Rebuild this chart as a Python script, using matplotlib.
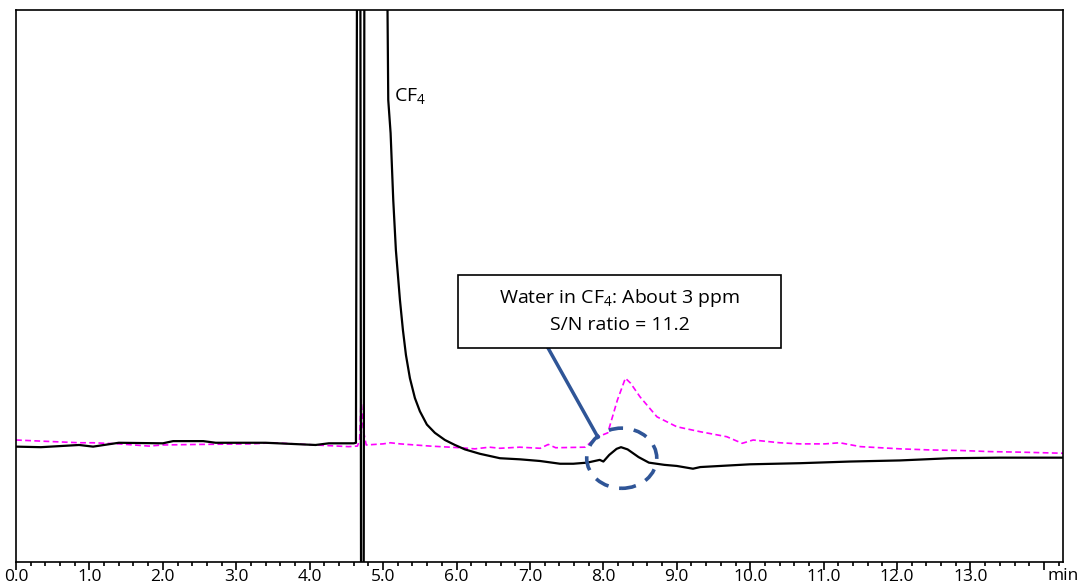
import matplotlib
matplotlib.use("Agg")
import matplotlib.pyplot as plt
from matplotlib.patches import Ellipse, Rectangle
from matplotlib.ticker import MultipleLocator

plt.rcParams['font.family'] = ['Open Sans', 'DejaVu Sans']
plt.rcParams['mathtext.fontset'] = 'custom'
plt.rcParams['mathtext.rm'] = 'Open Sans'
plt.rcParams['mathtext.default'] = 'regular'

# black trace (TCD signal), time in min, signal in arbitrary units
t_black = [0.0, 0.34, 0.86, 1.05, 1.40, 2.0, 2.14, 2.55, 2.72, 3.40, 4.08, 4.26, 4.60, 4.63,
           4.645, 4.69, 4.70, 4.735, 4.745, 5.04, 5.06, 5.07, 5.102, 5.138, 5.174, 5.229,
           5.270, 5.311, 5.365, 5.433, 5.501, 5.596, 5.705, 5.842, 5.978, 6.114, 6.319,
           6.591, 6.864, 7.136, 7.41, 7.59, 7.78, 7.95, 8.00,
           8.08, 8.18, 8.24, 8.33, 8.48, 8.62, 8.83, 9.0, 9.22, 9.32, 10.0, 10.68, 11.36,
           12.04, 12.72, 13.40, 14.26]
y_black = [20.9, 20.8, 21.2, 20.9, 21.6, 21.5, 21.9, 21.9, 21.6, 21.6, 21.2, 21.5, 21.5, 21.6,
           110, 110, -10, -10, 110, 110, 100, 83.7, 77.7, 65.6, 56.5, 47.5,
           42.0, 37.5, 33.3, 29.7, 27.3, 24.9, 23.4, 22.1, 21.2, 20.4, 19.6,
           18.8, 18.6, 18.3, 17.8, 17.8, 18.0, 18.5, 18.2,
           19.4, 20.5, 20.8, 20.4, 19.0, 18.0, 17.6, 17.4, 16.9, 17.2, 17.7, 17.9, 18.2,
           18.4, 18.8, 18.9, 18.9]

# magenta dashed trace (blank / reference run)
t_mag = [0.0, 0.34, 0.87, 1.05, 1.40, 1.81, 2.0, 2.5, 3.2, 3.5, 4.08, 4.53, 4.65, 4.68,
         4.70, 4.73, 4.77, 5.0, 5.10, 5.23, 5.64, 6.05, 6.25, 6.45, 6.59, 6.86, 7.14, 7.25,
         7.35, 7.75, 7.91, 8.06, 8.19, 8.30, 8.37, 8.50, 8.73, 9.0, 9.32, 9.68, 9.89,
         10.04, 10.40, 10.68, 11.02, 11.22, 11.50, 12.04, 12.45, 12.86, 13.27, 13.68, 14.26]
y_mag = [22.1, 21.9, 21.6, 21.6, 21.4, 21.0, 21.2, 21.3, 21.4, 21.6, 21.2, 20.9, 21.0, 22.1,
         29.5, 23.9, 21.2, 21.4, 21.6, 21.4, 21.0, 20.7, 20.5, 20.8, 20.6, 20.8, 20.6, 21.3,
         20.7, 20.8, 22.6, 23.4, 29.3, 33.3, 32.4, 29.9, 26.3, 24.5, 23.6, 22.7, 21.5,
         22.1, 21.6, 21.4, 21.4, 21.6, 20.9, 20.5, 20.3, 20.2, 20.0, 19.9, 19.7]

tick_vals = list(range(0, 15))
tick_labels = ['%.1f' % v for v in range(0, 14)] + ['']

blue = '#2f5597'

fig = plt.figure(figsize=(10.78, 5.86), dpi=100)
ax = fig.add_axes([16 / 1078, 24 / 586, 1047 / 1078, 552 / 586])

ax.plot(t_mag, y_mag, color='#ff00ff', lw=1.2, ls=(0, (3.5, 2)))
ax.plot(t_black, y_black, color='black', lw=1.6)

ax.set_xlim(0, 14.26)
ax.set_ylim(0, 100)
ax.set_yticks([])
ax.set_xticks(tick_vals)
ax.set_xticklabels(tick_labels, fontsize=12.5)
ax.xaxis.set_minor_locator(MultipleLocator(0.2))
ax.tick_params(axis='x', which='major', length=6, width=1.2, pad=-1)
ax.tick_params(axis='x', which='minor', length=3, width=1.2)
for s in ax.spines.values():
    s.set_linewidth(1.2)
ax.text(1.0, -0.011, 'min', transform=ax.transAxes, ha='center', va='top', fontsize=12.5)

# peak label
ax.text(5.15, 84.4, 'CF$_4$', fontsize=14, ha='left', va='center')

# annotation box, leader line and dashed ellipse
ax.add_patch(Rectangle((6.02, 38.8), 4.40, 13.2, fill=True, facecolor='white',
                       edgecolor='black', lw=1.2, zorder=4))
ax.text(8.22, 47.8, 'Water in CF$_4$: About 3 ppm', fontsize=14, ha='center', va='center', zorder=5)
ax.text(8.22, 42.9, 'S/N ratio = 11.2', fontsize=14, ha='center', va='center', zorder=5)
ax.plot([7.245, 7.926], [38.8, 22.6], color=blue, lw=2.5, zorder=3)
ax.add_patch(Ellipse((8.25, 18.8), 0.954, 10.9, fill=False, edgecolor=blue, lw=2.6,
                     ls=(0, (4, 3)), zorder=3))

fig.savefig('out.png', dpi=100)
